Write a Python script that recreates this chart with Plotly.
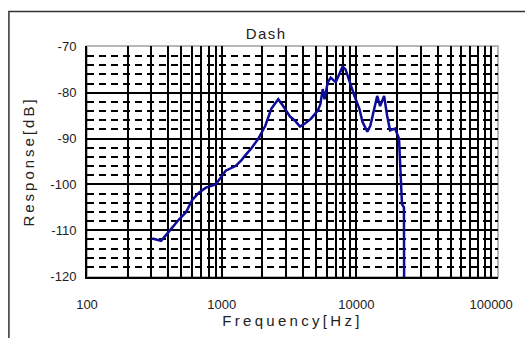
import plotly.graph_objects as go

# Data
freq_hz = [305, 355, 387, 429, 483, 543, 601, 677, 763, 903, 1000, 1070, 1267, 1403, 1501,
           1662, 1872, 2107, 2333, 2627, 2858, 3217, 3500, 3810, 4146, 4589, 5166, 5400,
           5623, 5800, 6124, 6444, 7017, 7506, 7895, 8302, 8893, 9669, 10520, 11070, 12050,
           12680, 13560, 14260, 15000, 16060, 16900, 17780, 19360, 20710, 21070, 21790,
           22530, 22600]
response_db = [-111.8, -112.3, -111.0, -109.3, -107.6, -106.1, -103.5, -101.8, -100.7, -100.0,
               -98.1, -97.0, -96.0, -94.7, -93.6, -92.1, -90.0, -87.2, -83.5, -81.4, -82.9,
               -85.2, -86.1, -87.4, -86.7, -85.7, -83.9, -82.5, -79.2, -81.4, -77.7, -76.7,
               -77.7, -75.6, -74.3, -74.9, -77.7, -80.7, -83.5, -86.3, -88.5, -87.2, -83.5,
               -80.7, -82.9, -80.7, -85.0, -88.2, -87.8, -90.0, -94.9, -104.3, -105.0, -121]

x_tickvals = [100, 1000, 10000, 100000]
x_ticktext = ["100", "1000", "10000", "100000"]
y_tickvals = [-120, -110, -100, -90, -80, -70]
y_ticktext = ["-120", "-110", "-100", "-90", "-80", "-70"]
x_minor_vals = [k * 10 ** d for d in range(2, 6) for k in range(2, 10)]

FONT = "Arial, Liberation Sans, sans-serif"

fig = go.Figure()
fig.add_trace(go.Scatter(
    x=freq_hz, y=response_db, mode="lines",
    line=dict(color="#0c0c98", width=2.5),
    showlegend=False,
))

fig.update_layout(
    width=525, height=338,
    margin=dict(l=87, r=23, t=46, b=57),
    paper_bgcolor="white", plot_bgcolor="white",
    font=dict(family=FONT, color="#222"),
    title=dict(
        text='<span style="letter-spacing:1.5px">Dash</span>',
        x=0.507, xref="container", xanchor="center",
        y=0.9, yref="container", yanchor="middle",
        font=dict(size=15, color="#222"),
    ),
    shapes=[
        dict(type="rect", xref="paper", yref="paper", x0=0, x1=1, y0=0, y1=1,
             line=dict(color="#b8b8b8", width=2), layer="below"),
        dict(type="rect", xref="paper", yref="paper", x0=-0.19, x1=1.3, y0=-0.6, y1=1.149,
             line=dict(color="#333", width=1.5), fillcolor="rgba(0,0,0,0)", layer="below"),
    ],
)

fig.update_xaxes(
    type="log", range=[2, 5.051],
    tickvals=x_tickvals, ticktext=x_ticktext,
    tickfont=dict(size=13, color="#222"),
    ticks="", ticklabelstandoff=14,
    showgrid=True, gridcolor="black", gridwidth=2,
    showline=True, linecolor="black", linewidth=2,
    zeroline=False,
    minor=dict(tickvals=x_minor_vals, showgrid=True, gridcolor="black",
               gridwidth=1.8, griddash="solid", ticks=""),
    title=dict(text='<span style="letter-spacing:3.3px">Frequency[Hz]</span>',
               font=dict(size=15, color="#222"), standoff=4),
)
fig.update_yaxes(
    range=[-120.2, -69.8],
    tickvals=y_tickvals, ticktext=y_ticktext,
    tickfont=dict(size=13, color="#222"),
    ticks="", ticklabelstandoff=6,
    showgrid=True, gridcolor="black", gridwidth=2,
    showline=True, linecolor="black", linewidth=2,
    zeroline=False,
    minor=dict(dtick=2, showgrid=True, gridcolor="black", gridwidth=2,
               griddash="7px,5px", ticks=""),
    title=dict(text='<span style="letter-spacing:3px">Response[dB]</span>',
               font=dict(size=15, color="#222"), standoff=12),
)

fig.write_html("out.html")
